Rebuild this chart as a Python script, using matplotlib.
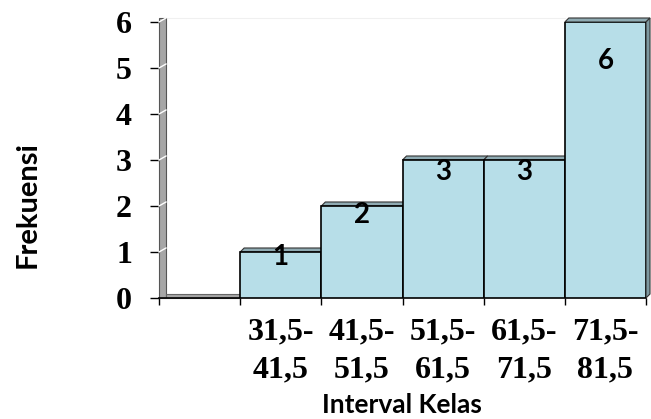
import matplotlib.pyplot as plt
from matplotlib.patches import Polygon, Rectangle

# data
kelas = ["", "31,5-\n41,5", "41,5-\n51,5", "51,5-\n61,5", "61,5-\n71,5", "71,5-\n81,5"]
frekuensi = [0, 1, 2, 3, 3, 6]
y_ticks = [0, 1, 2, 3, 4, 5, 6]

bar_color = "#B7DEE8"
top_color = "#8FABB3"
side_color = "#7D99A1"
wall_color = "#A6A6A6"

fig = plt.figure(figsize=(6.51, 4.19), dpi=100)
ax = fig.add_axes([159 / 651, 121 / 419, 487 / 651, 276 / 419])
ax.set_xlim(0, len(kelas))
ax.set_ylim(0, 6)

# 3d depth in data units (about 4 px)
dx = 4 / 81.2
dy = 4 / 46.0
wall_w = 7 / 81.2

# left wall and floor of the first (empty) class
ax.add_patch(Rectangle((0, 0), wall_w, 6 + dy, facecolor=wall_color,
                       edgecolor="#555555", lw=0.8, clip_on=False, zorder=2))
for t in y_ticks[1:]:
    ax.plot([0, wall_w], [t, t + dy], color="white", lw=1, clip_on=False, zorder=3)
ax.add_patch(Rectangle((wall_w, 0), 1 - wall_w, dy, facecolor=wall_color,
                       edgecolor="#666666", lw=0.8, clip_on=False, zorder=2))
ax.plot([wall_w, len(kelas) - 1], [6 + dy, 6 + dy], color="#F0F0F0", lw=0.8,
        clip_on=False, zorder=1)

# columns
idx = list(range(len(kelas)))
ax.bar(idx[1:], frekuensi[1:], width=1, align="edge", color=bar_color,
       edgecolor="black", lw=1.2, zorder=4)
for i, v in zip(idx[1:], frekuensi[1:]):
    top = Polygon([(i, v), (i + dx, v + dy), (i + 1 + dx, v + dy), (i + 1, v)],
                  closed=True, facecolor=top_color, edgecolor="#333333", lw=0.8,
                  clip_on=False, zorder=3)
    ax.add_patch(top)
# visible right side of last column
last = idx[-1] + 1
ax.add_patch(Polygon([(last, 0), (last + dx, dy), (last + dx, frekuensi[-1] + dy),
                      (last, frekuensi[-1])], closed=True, facecolor=side_color,
                     edgecolor="#333333", lw=0.8, clip_on=False, zorder=3))

# data labels (placed a bit below the top, as in the original)
label_drop = [0.1, 0.2, 0.27, 0.27, 0.85]
for i, v, d in zip(idx[1:], frekuensi[1:], label_drop):
    ax.text(i + 0.5, v - d, str(v), ha="center", va="center",
            fontsize=20, fontweight="bold", family="Lato", zorder=5)

# axes styling
for s in ["top", "right", "left"]:
    ax.spines[s].set_visible(False)
ax.spines["bottom"].set_linewidth(1.2)
ax.set_yticks(y_ticks)
ax.set_yticklabels([str(t) for t in y_ticks], fontsize=23, fontweight="bold",
                   family="Liberation Serif")
ax.tick_params(axis="y", length=6.5, width=1, pad=13)
ax.set_xticks(idx + [len(kelas)])
ax.set_xticklabels([])
ax.tick_params(axis="x", which="major", length=5, width=1)
ax.set_xticks([i + 0.5 for i in idx], minor=True)
ax.set_xticklabels(kelas, minor=True, fontsize=23, fontweight="bold",
                   family="Liberation Serif", linespacing=1.42)
ax.tick_params(axis="x", which="minor", length=0, pad=14)

fig.text(402 / 651, 1 - 405 / 419, "Interval Kelas", ha="center", va="center",
         fontsize=19, fontweight="bold", family="Lato")
fig.text(28 / 651, 1 - 205 / 419, "Frekuensi", ha="center", va="center",
         rotation=90, fontsize=21, fontweight="bold", family="Lato")

fig.savefig("out.png", dpi=100)
